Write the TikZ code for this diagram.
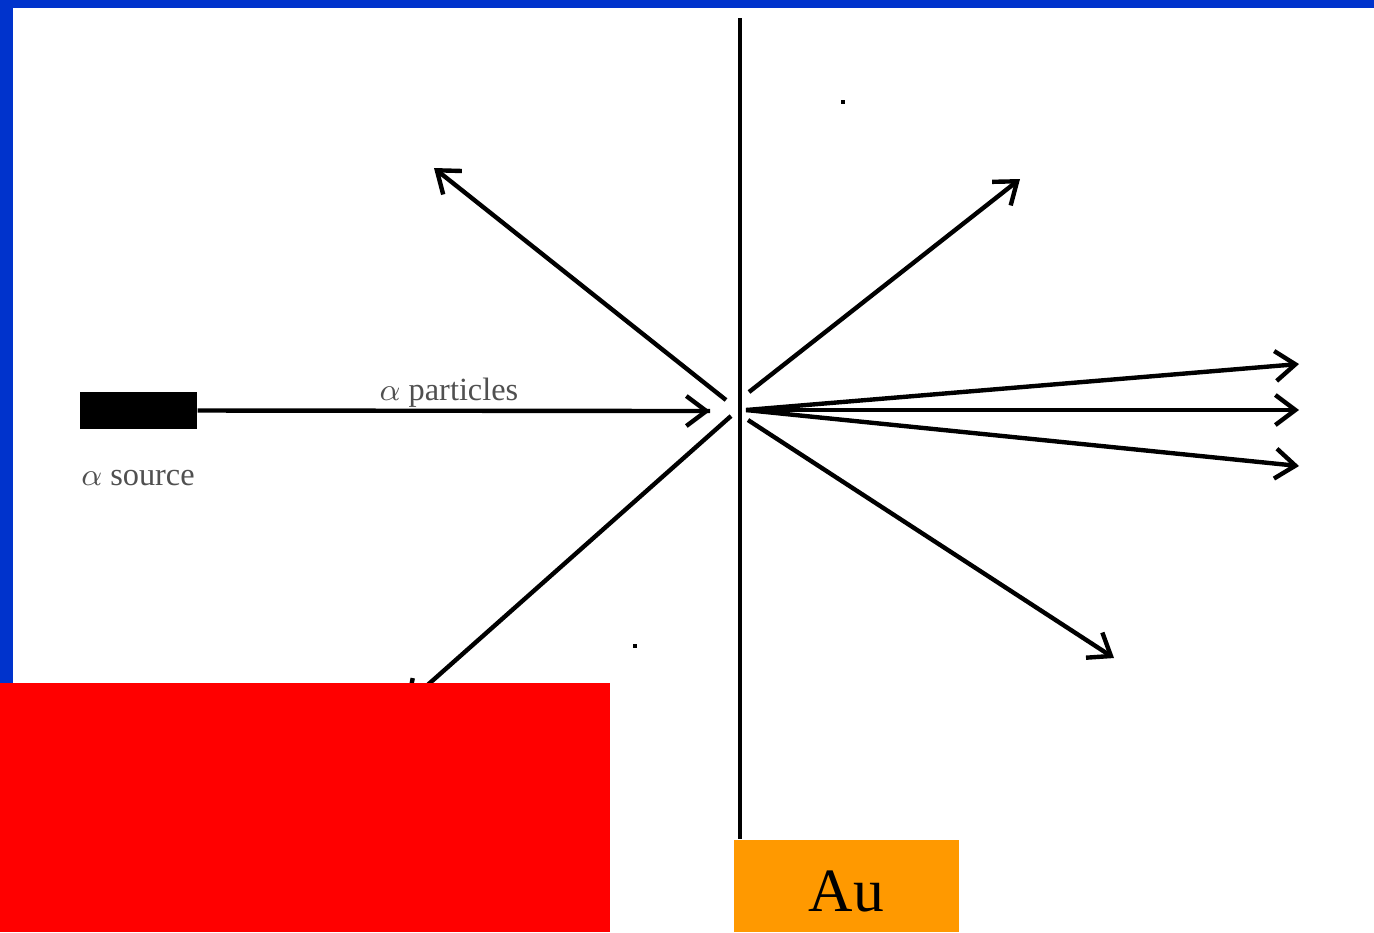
\documentclass[tikz,border=0pt]{standalone}
\usepackage{fontspec}
\setmainfont{Liberation Serif}
\usepackage{tikz}
\usetikzlibrary{arrows.meta,positioning,calc}
\definecolor{slideblue}{RGB}{0,51,204}
\definecolor{goldorange}{RGB}{255,153,0}
\definecolor{labelgray}{RGB}{80,80,80}

\begin{document}
\begin{tikzpicture}[x=0.01cm, y=-0.01cm,
        source/.style={rectangle, fill=black, minimum width=1.17cm, minimum height=0.37cm, inner sep=0pt},
        label/.style={text=labelgray, font=\fontsize{9.2pt}{11pt}\selectfont, inner sep=1pt},
        foil/.style={rectangle, fill=goldorange, minimum width=2.25cm, minimum height=0.92cm, inner sep=0pt},
        foiltext/.style={font=\fontsize{17.5pt}{20pt}\selectfont, inner sep=0pt},
        cover/.style={rectangle, fill=red, minimum width=6.1cm, minimum height=2.49cm, inner sep=0pt},
        speck/.style={rectangle, fill=black, minimum size=0.04cm, inner sep=0pt},
        arrow/.style={-{Straight Barb[length=0.2cm, width=0.3cm, line width=1.25pt]}, line width=1.25pt}]

        % Frame
        \useasboundingbox (0,0) rectangle (1374,932);
        \fill[slideblue] (0,0) rectangle (1374,932);
        \fill[white] (13,8) rectangle (1374,932);

        % Nodes
        \node[source] (src) at (138.5,410.5) {};
        \node[label] (srclbl) at (138,478) {$\alpha$ source};
        \node[foil] (au) at (846.5,886) {};
        \node[foiltext] (autxt) at ($(au.center)+(0,5)$) {Au};
        \node[speck] (dotA) at (843,102) {};
        \node[speck] (dotB) at (635,646) {};

        % Coordinates of the scattering spot
        \coordinate (foiltop) at (740,18);
        \coordinate (hit) at (710,411);
        \coordinate (backL) at (726,400);
        \coordinate (downL) at (731,416);
        \coordinate (upR) at (749,392);
        \coordinate (fwd) at (746,410);
        \coordinate (downR) at (748,420);

        % Ends of the scattered paths
        \coordinate (endUL) at (434,168);
        \coordinate (endUR) at (1020,179);
        \coordinate (endR1) at (1299,364);
        \coordinate (endR2) at (1299,410);
        \coordinate (endR3) at (1299,466);
        \coordinate (endDR) at (1114,658);
        \coordinate (endDL) at (405,705);

        % Gold foil
        \draw[line width=1.25pt] (foiltop) -- (foiltop |- au.north);

        % Connections
        \draw[line width=1.25pt] (src.east) -- (hit);
        \draw[arrow] ($(hit)+(-15,0)$) -- (hit);
        \node[label] (beamlbl) at (449,393) {$\alpha$ particles};
        \draw[arrow] (backL) -- (endUL);
        \draw[arrow] (upR) -- (endUR);
        \draw[arrow] (fwd) -- (endR1);
        \draw[arrow] (fwd) -- (endR2);
        \draw[arrow] (fwd) -- (endR3);
        \draw[arrow] (downR) -- (endDR);
        \draw[arrow] (downL) -- (endDL);

        % Red cover
        \node[cover] (redbox) at (305,807.5) {};

    \end{tikzpicture}
\end{document}
